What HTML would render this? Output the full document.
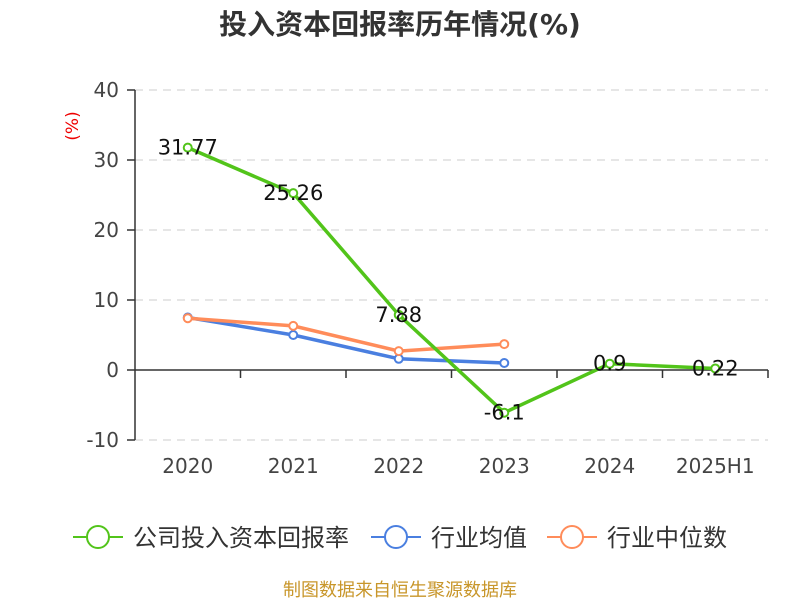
<!DOCTYPE html>
<html><head><meta charset="utf-8"><style>
body{margin:0;background:#fff;}
svg{display:block;font-family:"DejaVu Sans","Liberation Sans","Noto Sans CJK SC",sans-serif;}
</style></head><body>
<svg id="chart" width="800" height="600" viewBox="0 0 800 600" xmlns="http://www.w3.org/2000/svg">
<text x="400" y="34" text-anchor="middle" font-size="28" font-weight="bold" fill="#333">投入资本回报率历年情况(%)</text>
<text x="0" y="0" transform="translate(78,126) rotate(-90)" text-anchor="middle" font-size="17" fill="#e00">(%)</text>
<g id="grid"></g>
<g id="axes"></g>
<g id="series"></g>
<g>
 <g>
  <line x1="73" y1="537" x2="123" y2="537" stroke="#52c41a" stroke-width="2"/><circle cx="98" cy="537" r="11" fill="#fff" stroke="#52c41a" stroke-width="2"/>
  <text x="133" y="546" font-size="24" fill="#333">公司投入资本回报率</text></g>
 <g>
  <line x1="371" y1="537" x2="421" y2="537" stroke="#4a7fe0" stroke-width="2"/><circle cx="396" cy="537" r="11" fill="#fff" stroke="#4a7fe0" stroke-width="2"/>
  <text x="431" y="546" font-size="24" fill="#333">行业均值</text></g>
 <g>
  <line x1="547" y1="537" x2="597" y2="537" stroke="#ff8c5a" stroke-width="2"/><circle cx="572" cy="537" r="11" fill="#fff" stroke="#ff8c5a" stroke-width="2"/>
  <text x="607" y="546" font-size="24" fill="#333">行业中位数</text></g>
</g>
<text x="400" y="596" text-anchor="middle" font-size="18" fill="#c8962a">制图数据来自恒生聚源数据库</text>
</svg>
<script>
const categories=["2020","2021","2022","2023","2024","2025H1"];
const companyValues=[31.77,25.26,7.88,-6.1,0.9,0.22];
const companyLabels=["31.77","25.26","7.88","-6.1","0.9","0.22"];
const industryAvg=[7.5,5.0,1.6,1.0];
const industryMedian=[7.4,6.3,2.7,3.7];
const yTicks=[-10,0,10,20,30,40];
const NS="http://www.w3.org/2000/svg";
const x0=135,x1=768,yTop=90,yBot=440,vMin=-10,vMax=40;
const band=(x1-x0)/categories.length;
const xs=i=>x0+band*(i+0.5);
const ys=v=>yBot-(v-vMin)/(vMax-vMin)*(yBot-yTop);
function mk(tag,attrs,parent){const e=document.createElementNS(NS,tag);for(const k in attrs)e.setAttribute(k,attrs[k]);parent.appendChild(e);return e;}
const grid=document.getElementById('grid'),axes=document.getElementById('axes'),ser=document.getElementById('series');
yTicks.forEach(t=>{
 if(t!==0){const l=mk('line',{x1:x0,x2:x1,y1:ys(t),y2:ys(t),stroke:'#ccc','stroke-dasharray':'8,6'},grid);
 
 }
 const tk=mk('line',{x1:x0-8,x2:x0,y1:ys(t),y2:ys(t),stroke:'#333','stroke-width':1.5},axes);
 
 
 const tx=mk('text',{x:x0-16,y:ys(t)+7,'text-anchor':'end','font-size':20,fill:'#444'},axes);
 
 
 tx.textContent=t;
});
const ya=mk('line',{x1:x0,x2:x0,y1:yTop,y2:yBot,stroke:'#333','stroke-width':1.5},axes);


const xa=mk('line',{x1:x0,x2:x1,y1:ys(0),y2:ys(0),stroke:'#333','stroke-width':1.5},axes);


categories.forEach((c,i)=>{
 const tk=mk('line',{x1:x0+band*(i+1),x2:x0+band*(i+1),y1:ys(0),y2:ys(0)+8,stroke:'#333','stroke-width':1.5},axes);
 
 
 const tx=mk('text',{x:xs(i),y:473,'text-anchor':'middle','font-size':20,fill:'#444'},axes);
 
 
 tx.textContent=c;
});
function drawSeries(vals,color,name,labels){
 const g=mk('g',{},ser);
 
 
 const pts=vals.map((v,i)=>xs(i)+','+ys(v)).join(' ');
 const pl=mk('polyline',{points:pts,fill:'none',stroke:color,'stroke-width':3.5},g);
 
 
 vals.forEach((v,i)=>{
  const c=mk('circle',{cx:xs(i),cy:ys(v),r:4,fill:'#fff',stroke:color,'stroke-width':2},g);
  
  
  if(labels){const t=mk('text',{x:xs(i),y:ys(v)+7,'text-anchor':'middle','font-size':21,fill:'#111'},g);
  
  
  t.textContent=labels[i];}
 });
}
drawSeries(industryAvg,'#4a7fe0','industry-avg');
drawSeries(industryMedian,'#ff8c5a','industry-median');
drawSeries(companyValues,'#52c41a','company-roic',companyLabels);
</script>
</body></html>
